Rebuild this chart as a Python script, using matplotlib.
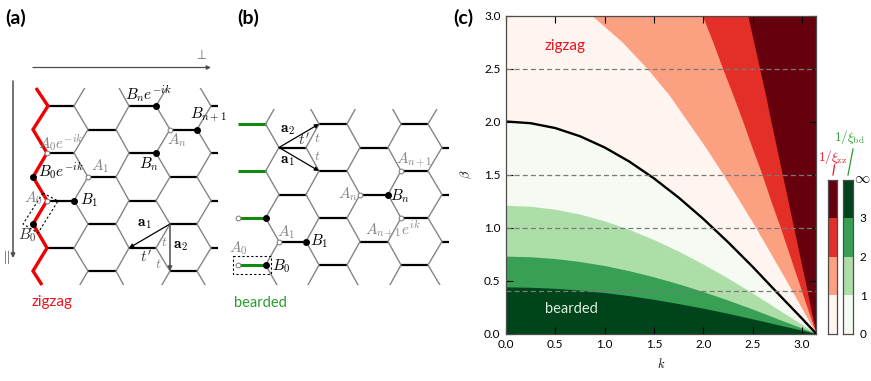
import matplotlib
matplotlib.use("Agg")
import matplotlib.pyplot as plt
from matplotlib.patches import Rectangle, Polygon

W, H = 871, 381
plt.rcParams['font.family'] = ['Lato', 'DejaVu Sans']
plt.rcParams['mathtext.fontset'] = 'cm'

GREY = '#858585'
DARK = '#4d4d4d'
RED = '#f01020'
GREEN = '#2e9a2e'
reds = ['#fff5f0', '#fca082', '#e32f27', '#67000d']
greens = ['#f5faf3', '#aedea7', '#37a055', '#00441b']

# panel (c), curves
k_vals = [0, .25, .5, .75, 1, 1.25, 1.5, 1.75, 2, 2.25, 2.5, 2.75, 3, 3.1416]
beta_crit = [2.0, 1.984, 1.938, 1.861, 1.755, 1.622, 1.463, 1.282, 1.081, .862, .629, .383, .141, 0]
beta_g1 = [1.21, 1.2, 1.172, 1.126, 1.062, .981, .885, .776, .654, .522, .381, .232, .085, 0]
beta_g2 = [.73, .724, .707, .679, .641, .592, .534, .468, .395, .315, .23, .14, .051, 0]
beta_g3 = [.44, .436, .426, .409, .386, .357, .322, .282, .238, .19, .138, .084, .031, 0]

beta_vals = [3, 2.75, 2.5, 2.25, 2, 1.75, 1.5, 1.25, 1, .75, .5, .25, 0]
k_r1 = [.87, 1.177, 1.43, 1.653, 1.84, 2.027, 2.2, 2.367, 2.53, 2.685, 2.84, 2.99, 3.1416]
k_r2 = [1.99, 2.096, 2.195, 2.3, 2.4, 2.495, 2.595, 2.684, 2.78, 2.87, 2.96, 3.05, 3.1416]
k_r3 = [2.45, 2.51, 2.57, 2.63, 2.685, 2.743, 2.8, 2.858, 2.915, 2.972, 3.03, 3.085, 3.1416]

dash_levels = [.4, 1, 1.5, 2.5]
cbar_ticks = ['0', '1', '2', '3']

# panel (a) lattice, pixel positions
a_rows = [82.4, 106, 129.5, 153, 177, 200.5, 224, 248, 271, 295]
a_even = [(47, 74), (129, 156), (211, 238)]
a_odd = [(88, 116), (170, 197)]
a_links = [(74, 88, 0), (116, 129, 1), (156, 170, 0), (197, 211, 1)]
a_red_x = [36, 48, 33, 47, 33, 47, 33, 47, 33, 42]
a_red_y = [88, 106, 129.5, 153, 177, 200.5, 224, 248, 271, 285]
a_full = [(156, 106), (197, 129.5), (156, 153), (33, 177), (74, 200.5), (33, 224)]
a_open = [(170, 129.5), (47, 153), (88, 177), (47, 200.5)]
a_cell_x = [43, 58, 38, 23]
a_cell_y = [193, 201, 233, 224]

# panel (b) lattice, pixel positions
b_rows = [100.5, 124, 147.5, 171, 194.5, 218, 241.5, 265, 288.5]
b_even = [(319, 347), (401, 428)]
b_odd = [(279, 306), (360, 388), (442, 469)]
b_green = [(238, 265.6)]
b_links = [(265.6, 279, 0), (306, 319, 1), (347, 360, 0), (388, 401, 1), (428, 442, 0)]
b_full = [(265.6, 218), (265.6, 265), (306, 241.5), (388, 194.5)]
b_open = [(238, 218), (238, 265), (279, 241.5), (360, 194.5), (401, 171), (401, 218)]

fig = plt.figure(figsize=(W / 100, H / 100), dpi=100)
bg = fig.add_axes([0, 0, 1, 1])
bg.set_xlim(0, W)
bg.set_ylim(H, 0)
bg.axis('off')


def lattice(rows, even, odd, links, clip, green=()):
    box = Rectangle((clip[0], clip[1]), clip[2] - clip[0], clip[3] - clip[1], transform=bg.transData)
    for i, y in enumerate(rows):
        is_even = (i % 2 == 1)
        for x0, x1 in (even if is_even else odd):
            l, = bg.plot([x0, x1], [y, y], color='k', lw=1.6, solid_capstyle='butt')
            l.set_clip_path(box)
        if is_even:
            for x0, x1 in green:
                if clip[1] < y < clip[3]:
                    bg.plot([x0, x1], [y, y], color='#108a10', lw=2.2, solid_capstyle='butt')
        if i + 1 == len(rows):
            continue
        y2 = rows[i + 1]
        for x0, x1, kind in links:
            # kind 0 starts on an even row, kind 1 on an odd row
            if (kind == 0) == is_even:
                pts = [(x0, y), (x1, y2)]
            else:
                pts = [(x0, y2), (x1, y)]
            l, = bg.plot([pts[0][0], pts[1][0]], [pts[0][1], pts[1][1]], color=GREY, lw=1.0)
            l.set_clip_path(box)


def dots(full, empty):
    for x, y in full:
        bg.plot(x, y, 'o', ms=4.0, color='k', zorder=5)
    for x, y in empty:
        bg.plot(x, y, 'o', ms=3.4, mfc='white', mec=GREY, mew=0.8, zorder=5)


def arrow(x0, y0, x1, y1, color='k', lw=0.9):
    bg.annotate('', xy=(x1, y1), xytext=(x0, y0), zorder=6,
                arrowprops=dict(arrowstyle='-|>', color=color, lw=lw, mutation_scale=6,
                                shrinkA=0, shrinkB=0))


def lab(x, y, s, color='k', size=11):
    bg.text(x, y, s, color=color, fontsize=size, ha='center', va='center', zorder=7)


# panel (a)
lattice(a_rows, a_even, a_odd, a_links, (20, 88, 218, 285))
bg.plot(a_red_x, a_red_y, color='#f00000', lw=2.4, solid_joinstyle='miter', solid_capstyle='butt', zorder=4)
dots(a_full, a_open)
bg.add_patch(Polygon(list(zip(a_cell_x, a_cell_y)), closed=True, fill=False, ec='k', lw=0.8, ls=(0, (2, 2)), zorder=6))
arrow(33, 67.5, 211, 67.5, DARK)
arrow(13, 81, 13, 258, DARK, 1.1)
arrow(170, 224, 129, 248)
arrow(170, 224, 170, 271, DARK, 1.1)

lab(201, 54, r'$\perp$', GREY, 10)
lab(5, 257, r'$\parallel$', GREY, 11)
lab(148, 94, r'$B_n e^{-ik}$')
lab(208, 115, r'$B_{n+1}$')
lab(61, 143, r'$A_0 e^{-ik}$', GREY)
lab(61, 171, r'$B_0 e^{-ik}$')
lab(100, 166, r'$A_1$', GREY)
lab(177, 140, r'$A_n$', GREY)
lab(149, 164, r'$B_n$')
lab(89, 200, r'$B_1$')
lab(33, 198, r'$A_0$', GREY)
lab(27, 235, r'$B_0$', '#333333')
lab(144, 224, r'$\mathbf{a}_{\mathbf{1}}$')
lab(180, 246, r'$\mathbf{a}_{\mathbf{2}}$')
lab(146, 257, r"$t'$", '#333333')
lab(164, 241, r'$t$', GREY, 10)
lab(158, 264, r'$t$', GREY, 10)
lab(52, 302, 'zigzag', RED, 11)

# panel (b)
lattice(b_rows, b_even, b_odd, b_links, (230, 109, 449, 285), b_green)
dots(b_full, b_open)
bg.add_patch(Rectangle((233, 256), 38, 18, fill=False, ec='k', lw=0.8, ls=(0, (2, 2)), zorder=6))
arrow(279, 147.5, 319, 124)
arrow(279, 147.5, 319, 171)

lab(287, 130, r'$\mathbf{a}_{\mathbf{2}}$')
lab(287, 161, r'$\mathbf{a}_{\mathbf{1}}$')
lab(304, 140, r"$t'$", '#333333')
lab(317, 137, r'$t$', GREY, 10)
lab(317, 155, r'$t$', GREY, 10)
lab(238, 248, r'$A_0$', GREY)
lab(281, 266, r'$B_0$')
lab(286, 232, r'$A_1$', GREY)
lab(319, 241, r'$B_1$')
lab(348, 194, r'$A_n$', GREY)
lab(400, 196, r'$B_n$')
lab(414, 160, r'$A_{n+1}$', GREY)
lab(393, 229, r'$A_{n+1}e^{ik}$', GREY)
lab(260, 303, 'bearded', GREEN, 10.5)

for x, s in [(16, '(a)'), (248, '(b)'), (463, '(c)')]:
    bg.text(x, 18, s, fontsize=14, fontweight='bold', ha='center', va='center')

# panel (c)
ax = fig.add_axes([506 / W, 1 - 333.5 / H, 310 / W, 318 / H])
ax.set_xlim(0, 3.1416)
ax.set_ylim(0, 3)
ax.set_facecolor(reds[0])
ax.fill_betweenx(beta_vals, k_r1, 3.1416, color=reds[1], lw=0)
ax.fill_betweenx(beta_vals, k_r2, 3.1416, color=reds[2], lw=0)
ax.fill_betweenx(beta_vals, k_r3, 3.1416, color=reds[3], lw=0)
ax.fill_between(k_vals, 0, beta_crit, color=greens[0], lw=0)
ax.fill_between(k_vals, 0, beta_g1, color=greens[1], lw=0)
ax.fill_between(k_vals, 0, beta_g2, color=greens[2], lw=0)
ax.fill_between(k_vals, 0, beta_g3, color=greens[3], lw=0)
ax.plot(k_vals, beta_crit, color='k', lw=1.7)
for b in dash_levels:
    ax.axhline(b, color='#7a7a7a', lw=0.9, ls=(0, (4, 2.5)))
ax.set_xticks([0, .5, 1, 1.5, 2, 2.5, 3])
ax.set_yticks([0, .5, 1, 1.5, 2, 2.5, 3])
ax.tick_params(direction='in', top=True, right=True, length=5, width=0.8, labelsize=8.5, pad=4)
for s in ax.spines.values():
    s.set_color(DARK)
    s.set_linewidth(0.9)
ax.set_xlabel(r'$k$', fontsize=9, labelpad=4)
ax.set_ylabel(r'$\beta$', fontsize=9, labelpad=7)
ax.text(.6, 2.71, 'zigzag', color=RED, fontsize=11, ha='center', va='center')
ax.text(.66, .23, 'bearded', color='#dff0da', fontsize=10.5, ha='center', va='center')

# color bars
levels = [0, 1, 2, 3]
for x0, x1, cols in [(827.7, 836.7, reds), (843.3, 852.7, greens)]:
    cb = fig.add_axes([x0 / W, 1 - 333.5 / H, (x1 - x0) / W, 154 / H])
    cb.barh([l + .5 for l in levels], [1, 1, 1, 1], height=1, color=cols, lw=0)
    cb.set_xlim(0, 1)
    cb.set_ylim(0, 4)
    cb.set_xticks([])
    cb.set_yticks([])
    for s in cb.spines.values():
        s.set_color(DARK)
        s.set_linewidth(0.9)
cb.yaxis.tick_right()
cb.set_yticks(levels)
cb.set_yticklabels(cbar_ticks)
cb.tick_params(length=0, labelsize=8.5, pad=5)
bg.text(862.5, 179, r'$\infty$', fontsize=11, ha='center', va='center')
bg.plot([833, 834.5], [175, 165], color=RED, lw=0.9)
bg.plot([848, 853], [175, 149], color=GREEN, lw=0.9)
bg.text(832, 157, r'$1/\xi_{\mathrm{zz}}$', color=RED, fontsize=9.5, ha='center', va='center')
bg.text(849, 137, r'$1/\xi_{\mathrm{bd}}$', color=GREEN, fontsize=9.5, ha='center', va='center')
bg.set_zorder(3)
bg.patch.set_alpha(0)

fig.savefig('out.png', dpi=100)
